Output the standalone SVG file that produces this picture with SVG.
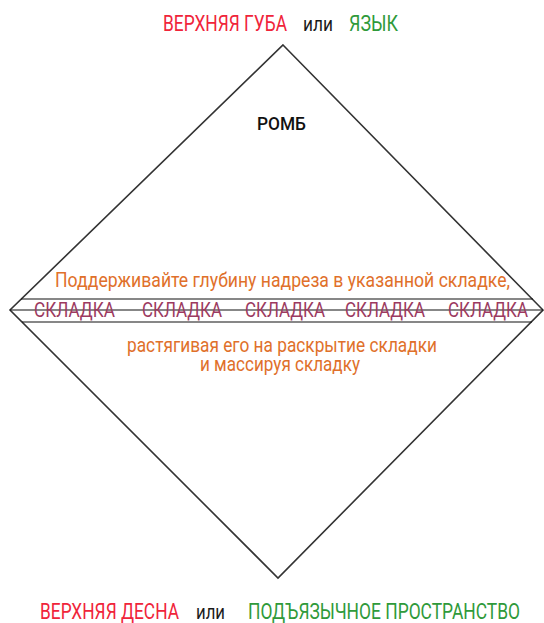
<svg xmlns="http://www.w3.org/2000/svg" width="544" height="623" viewBox="0 0 544 623">
<style>
text{font-family:Roboto,"Liberation Sans",sans-serif;}
.red{fill:#f0243a;font-size:22px;}
.grn{fill:#2f9a3a;font-size:22px;}
.blk{fill:#1a1a1a;font-size:21px;}
.org{fill:#e0702a;font-size:21px;text-anchor:middle;}
.fold{fill:#9c3a60;font-size:21px;}
.ln{stroke:#111;stroke-width:1.2;fill:none;}
</style>
<rect width="544" height="623" fill="#fff"/>
<g id="rhombus">
<polygon points="283,45 543,310 278,578 10,310" fill="none" stroke="#333" stroke-width="1.6"/>
<text x="281.5" y="130" font-size="18" font-weight="500" fill="#111" text-anchor="middle" textLength="49" lengthAdjust="spacingAndGlyphs">РОМБ</text>
</g>
<g id="connectors">
<line class="ln" x1="21" y1="299" x2="533" y2="299"/>
<line class="ln" x1="10" y1="310" x2="543" y2="310"/>
<line class="ln" x1="22" y1="322" x2="532" y2="322"/>
</g>
<g id="top-label">
<text class="red" x="163" y="31" textLength="124" lengthAdjust="spacingAndGlyphs">ВЕРХНЯЯ ГУБА</text>
<text class="blk" x="303" y="31" textLength="30" lengthAdjust="spacingAndGlyphs">или</text>
<text class="grn" x="349" y="31" textLength="49" lengthAdjust="spacingAndGlyphs">ЯЗЫК</text>
</g>
<g id="instructions">
<text class="org" x="282.5" y="287" textLength="455" lengthAdjust="spacingAndGlyphs">Поддерживайте глубину надреза в указанной складке,</text>
<text class="org" x="282" y="352" textLength="310" lengthAdjust="spacingAndGlyphs">растягивая его на раскрытие складки</text>
<text class="org" x="280" y="371" textLength="160" lengthAdjust="spacingAndGlyphs">и массируя складку</text>
</g>
<g id="folds">
<text class="fold" x="34" y="317" textLength="81" lengthAdjust="spacingAndGlyphs">СКЛАДКА</text>
<text class="fold" x="142" y="317" textLength="80" lengthAdjust="spacingAndGlyphs">СКЛАДКА</text>
<text class="fold" x="245" y="317" textLength="80" lengthAdjust="spacingAndGlyphs">СКЛАДКА</text>
<text class="fold" x="345" y="317" textLength="80" lengthAdjust="spacingAndGlyphs">СКЛАДКА</text>
<text class="fold" x="448" y="317" textLength="80" lengthAdjust="spacingAndGlyphs">СКЛАДКА</text>
</g>
<g id="bottom-label">
<text class="red" x="40" y="619" font-size="21" textLength="139" lengthAdjust="spacingAndGlyphs">ВЕРХНЯЯ ДЕСНА</text>
<text class="blk" x="196" y="619" textLength="29" lengthAdjust="spacingAndGlyphs">или</text>
<text class="grn" x="248" y="619" font-size="21" textLength="272" lengthAdjust="spacingAndGlyphs">ПОДЪЯЗЫЧНОЕ ПРОСТРАНСТВО</text>
</g>
</svg>
